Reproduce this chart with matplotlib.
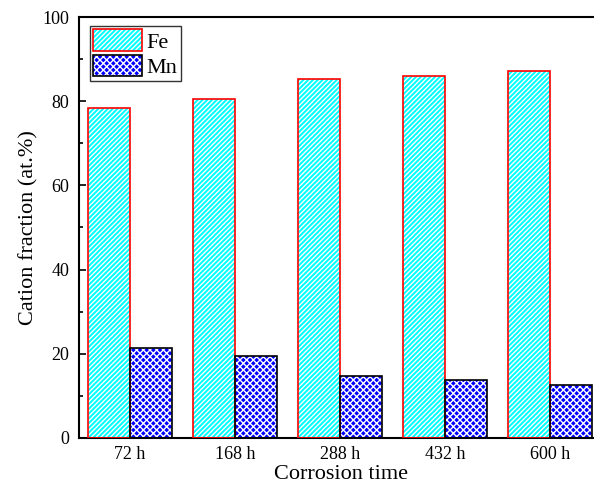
import matplotlib
matplotlib.use("Agg")
import matplotlib.pyplot as plt
import numpy as np
from matplotlib.patches import Patch
from matplotlib.legend_handler import HandlerTuple

categories = ["72 h", "168 h", "288 h", "432 h", "600 h"]
fe = [78.4, 80.5, 85.3, 86.0, 87.2]
mn = [21.4, 19.5, 14.7, 13.8, 12.6]

plt.rcParams['font.family'] = ['Liberation Serif', 'DejaVu Serif']
plt.rcParams['hatch.linewidth'] = 1.0

W, H = 594, 498
fig = plt.figure(figsize=(W/100, H/100), dpi=100)
left, right, top, bottom = 79, 602, 17, 438
ax = fig.add_axes([left/W, 1-bottom/H, (right-left)/W, (bottom-top)/H])

FE_HATCH = '///////'
MN_HATCH = 'xxxxx'

x = np.arange(len(categories))
w = 0.4
ax.bar(x - w/2, fe, w, color='#00FFFF', edgecolor='white', hatch=FE_HATCH, linewidth=0, zorder=2)
ax.bar(x - w/2, fe, w, fill=False, edgecolor='red', linewidth=1.2, zorder=3)
ax.bar(x + w/2, mn, w, color='#0000FF', edgecolor='white', hatch=MN_HATCH, linewidth=0, zorder=2)
ax.bar(x + w/2, mn, w, fill=False, edgecolor='black', linewidth=1.2, zorder=3)

spacing = 105.0
x0 = -(130 - left) / spacing
x1 = x0 + (right - left) / spacing
ax.set_xlim(x0, x1)
ax.set_ylim(0, 100)
ax.set_xticks(x)
ax.set_xticklabels(categories)
ax.set_yticks([0, 20, 40, 60, 80, 100])
ax.set_yticks([10, 30, 50, 70, 90], minor=True)
ax.tick_params(axis='both', which='both', direction='in', labelsize=13, width=1.2)
ax.tick_params(axis='y', which='major', length=5, pad=7)
ax.tick_params(axis='y', which='minor', length=3)
ax.tick_params(axis='x', which='major', length=0, pad=6)
for s in ax.spines.values():
    s.set_linewidth(1.5)

ax.set_xlabel("Corrosion time", fontsize=16, labelpad=1)
ax.set_ylabel("Cation fraction (at.%)", fontsize=16, labelpad=3)

h1 = (Patch(facecolor='#00FFFF', edgecolor='white', hatch=FE_HATCH, linewidth=0),
      Patch(fill=False, edgecolor='red', linewidth=1.2))
h2 = (Patch(facecolor='#0000FF', edgecolor='white', hatch=MN_HATCH, linewidth=0),
      Patch(fill=False, edgecolor='black', linewidth=1.2))
leg = ax.legend([h1, h2], ["Fe", "Mn"], handler_map={tuple: HandlerTuple(ndivide=1, pad=0)},
                loc='upper left', bbox_to_anchor=((90-left)/(right-left), 1-(26-top)/(bottom-top)),
                fontsize=16, frameon=True, fancybox=False, edgecolor='black', handlelength=2.2, handleheight=1.1,
                handletextpad=0.2, borderaxespad=0, borderpad=0.15, labelspacing=0.1)
leg.get_frame().set_linewidth(1.0)

fig.savefig("out.png", dpi=100)
